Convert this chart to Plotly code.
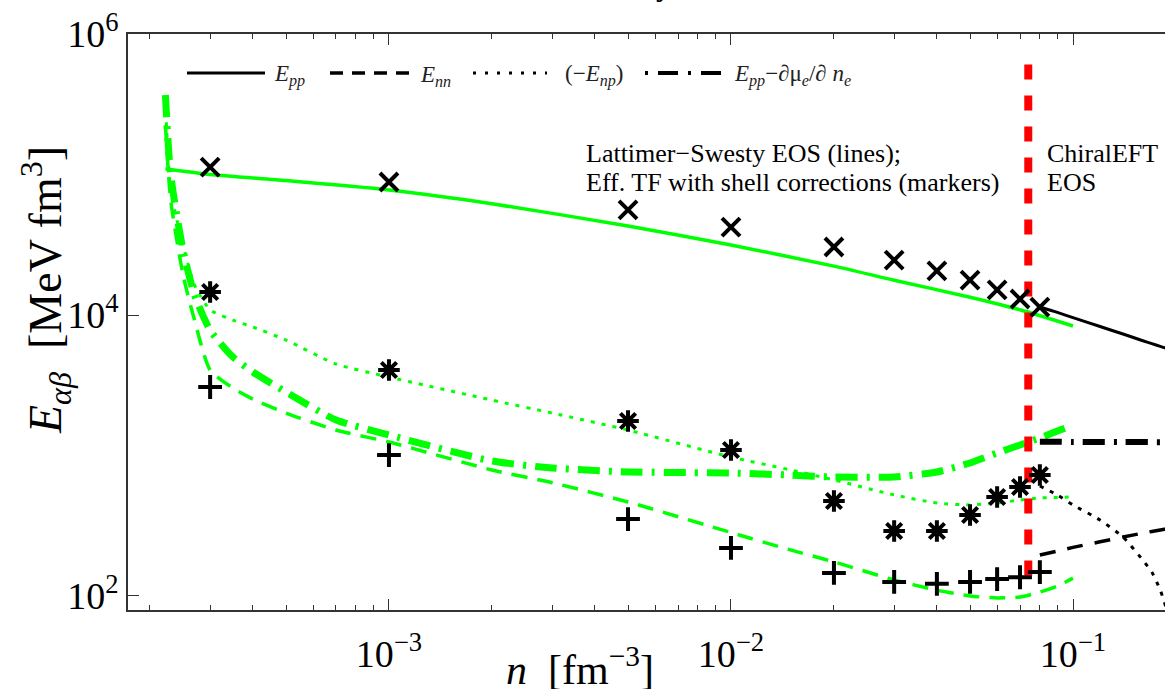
import plotly.graph_objects as go

# ---------------- data ----------------
# Eff. TF with shell corrections (markers)
n_tf = [3e-4, 1e-3, 5e-3, 1e-2, 2e-2, 3e-2, 4e-2, 5e-2, 6e-2, 7e-2, 8e-2]
E_pp_tf = [1.13e5, 8.85e4, 5.6e4, 4.23e4, 3.05e4, 2.46e4, 2.06e4, 1.77e4, 1.51e4, 1.30e4, 1.14e4]
E_np_tf = [1.46e4, 4065, 1762, 1094, 474, 290, 290, 377, 507, 597, 726]
E_nn_tf = [3073, 1008, 353, 220, 146, 126, 122, 126, 132, 136, 148]

# Lattimer-Swesty EOS (green lines)
n_ls_pp = [2.22e-4, 3e-4, 5e-4, 1e-3, 2e-3, 5e-3, 1e-2, 2e-2, 3e-2, 5e-2, 7e-2, 0.1]
E_pp_ls = [1.10e5, 1.00e5, 9.06e4, 7.76e4, 6.2e4, 4.30e4, 3.15e4, 2.23e4, 1.77e4, 1.34e4, 1.09e4, 8360]

n_ls = [2.22e-4, 2.3e-4, 2.5e-4, 2.7e-4, 3e-4, 3.5e-4, 4e-4, 5e-4, 7e-4, 1e-3, 2e-3, 3e-3,
        5e-3, 1e-2, 1.5e-2, 2e-2, 3e-2, 4e-2, 5e-2, 6e-2, 7e-2, 8e-2, 9e-2, 0.1]
E_nn_ls = [2.25e5, 6.59e4, 1.93e4, 9210, 4060, 3020, 2520, 2006, 1518, 1247, 789, 640,
           467, 283, 212, 175, 130, 110, 100, 96.8, 98.4, 106.7, 117.7, 134]
E_np_ls = [3.39e5, 7.76e4, 3.15e4, 1.64e4, 1.09e4, 9210, 8220, 6640, 4480, 3620, 2480, 2006,
           1518, 975, 788, 670, 524, 459, 445, 459, 482, 499, 503, 507]
E_ppd_ls = [3.68e5, 1.0e5, 2.9e4, 1.39e4, 7820, 5020, 3930, 2830, 1790, 1400, 914, 815,
            764, 750, 725, 703, 703, 764, 885, 1042, 1189, 1333, 1494, 1648]

# ChiralEFT EOS (black lines)
n_ch = [0.08, 0.09, 0.1, 0.12, 0.14, 0.16, 0.17, 0.18, 0.19, 0.2]
E_pp_ch = [11400, 10440, 9583, 8281, 7325, 6565, 6257, 5989, 5728, 5516]
E_nn_ch = [196, 209, 222, 243, 263, 280, 288, 295, 302, 310]
E_np_ch = [607, 524, 445, 347, 263, 180, 148, 110, 73, 40]
E_ppd_ch = [1255, 1252, 1250, 1248, 1247, 1246, 1245, 1245, 1244, 1244]

# boundary between EOS models
n_boundary = [0.074, 0.074]
E_boundary = [140, 7.3e5]

x_tickvals = [1e-3, 1e-2, 1e-1]
x_ticktext = ["10<sup>−3</sup>", "10<sup>−2</sup>", "10<sup>−1</sup>"]
x_minor = [2e-4, 3e-4, 4e-4, 5e-4, 6e-4, 7e-4, 8e-4, 9e-4,
           2e-3, 3e-3, 4e-3, 5e-3, 6e-3, 7e-3, 8e-3, 9e-3,
           2e-2, 3e-2, 4e-2, 5e-2, 6e-2, 7e-2, 8e-2, 9e-2]
y_tickvals = [1e2, 1e4, 1e6]
y_ticktext = ["10<sup>2</sup>", "10<sup>4</sup>", "10<sup>6</sup>"]

# ---------------- figure ----------------
W, H = 1165, 689
ML, MR, MT, MB = 128, 0, 34, 79
PW, PH = W - ML - MR, H - MT - MB
FONT = "Liberation Serif"
GREEN = "#00ff00"


def px(x):
    return (x - ML) / PW


def py(y):
    return (H - MB - y) / PH


fig = go.Figure()


def line(x, y, color, width, dash, smooth=0.6):
    fig.add_trace(go.Scatter(x=x, y=y, mode="lines", hoverinfo="skip",
                             line=dict(color=color, width=width, dash=dash,
                                       shape="spline", smoothing=smooth)))


line(n_ls_pp, E_pp_ls, GREEN, 3.5, "solid")
line(n_ls, E_nn_ls, GREEN, 3.5, "16px,10px")
line(n_ls, E_np_ls, GREEN, 3, "4px,7px")
line(n_ls, E_ppd_ls, GREEN, 7, "22px,9px,3px,9px")

line(n_ch, E_pp_ch, "black", 3, "solid")
line(n_ch, E_nn_ch, "black", 3.5, "16px,12px")
line(n_ch, E_np_ch, "black", 3, "4px,7px")
line(n_ch, E_ppd_ch, "black", 6, "22px,9px,3px,9px")

fig.add_trace(go.Scatter(x=n_boundary, y=E_boundary, mode="lines", hoverinfo="skip",
                         line=dict(color="#ff0000", width=8, dash="15px,16px")))


def markers(y, symbol, size):
    fig.add_trace(go.Scatter(x=n_tf, y=y, mode="markers", hoverinfo="skip",
                             marker=dict(symbol=symbol, size=size, color="black",
                                         line=dict(color="black", width=4))))


markers(E_pp_tf, "x-thin", 18)
markers(E_np_tf, "asterisk", 18)
markers(E_nn_tf, "cross-thin", 17)

# legend (drawn manually)
leg_y = py(73)
leg_items = [
    (187, 265, "solid", 3, 272, "<i>E</i><sub><i>pp</i></sub>"),
    (330, 410, "13px,9px", 3.5, 418, "<i>E</i><sub><i>nn</i></sub>"),
    (473, 547, "3px,9px", 3, 563, "(−<i>E</i><sub><i>np</i></sub>)"),
    (645, 722, "3px,10px,20px,10px", 4, 732,
     "<i>E</i><sub><i>pp</i></sub>−∂μ<sub><i>e</i></sub>/∂ <i>n</i><sub><i>e</i></sub>"),
]
shapes = []
annotations = []
for x0, x1, dash, w, xt, label in leg_items:
    shapes.append(dict(type="line", xref="paper", yref="paper", x0=px(x0), x1=px(x1),
                       y0=leg_y, y1=leg_y, line=dict(color="black", width=w, dash=dash)))
    annotations.append(dict(text=label, xref="paper", yref="paper", x=px(xt), y=py(76),
                            xanchor="left", yanchor="middle", showarrow=False,
                            font=dict(family=FONT, size=23, color="#222")))

txt_font = dict(family=FONT, size=26, color="black")
for t, x, y in [("Lattimer−Swesty EOS (lines);", 584, 153),
                ("Eff. TF with shell corrections (markers)", 584, 182),
                ("ChiralEFT", 1045, 153),
                ("EOS", 1045, 182)]:
    annotations.append(dict(text=t, xref="paper", yref="paper", x=px(x), y=py(y),
                            xanchor="left", yanchor="middle", showarrow=False, font=txt_font))

# axis titles
annotations.append(dict(text="<i>n</i>\u00a0\u00a0[fm<sup>−3</sup>]", xref="paper", yref="paper",
                        x=px(580), y=py(638), xanchor="center", yanchor="top", showarrow=False,
                        font=dict(family=FONT, size=42, color="black")))
annotations.append(dict(text="<i>E</i><sub><i>αβ</i></sub>\u00a0\u00a0[MeV fm<sup>3</sup>]",
                        xref="paper", yref="paper", x=px(45), y=py(290), textangle=-90,
                        xanchor="center", yanchor="middle", showarrow=False,
                        font=dict(family=FONT, size=46, color="black")))
# fragment of a cut-off title at the very top
annotations.append(dict(text="<b>y</b>", xref="paper", yref="paper", x=px(663), y=py(4),
                        xanchor="center", yanchor="bottom", showarrow=False,
                        font=dict(family=FONT, size=30, color="black")))

axis_common = dict(type="log", showgrid=False, zeroline=False, showline=True,
                   linecolor="#333", linewidth=1.5, ticks="inside", ticklen=11,
                   tickwidth=1.3, tickcolor="#333",
                   tickfont=dict(family=FONT, size=38, color="black"))

fig.update_layout(
    width=W, height=H, autosize=False,
    margin=dict(l=ML, r=MR, t=MT, b=MB),
    paper_bgcolor="white", plot_bgcolor="white",
    showlegend=False,
    xaxis=dict(range=[-3.763, -0.731], tickmode="array", tickvals=x_tickvals,
               ticktext=x_ticktext, mirror="ticks", ticklabelstandoff=10,
               minor=dict(tickmode="array", tickvals=x_minor, ticks="inside", ticklen=5,
                          tickwidth=1.3, tickcolor="#333"),
               **axis_common),
    yaxis=dict(range=[1.9003, 6.0005], tickmode="array", tickvals=y_tickvals,
               ticktext=y_ticktext, mirror=False, **axis_common),
    shapes=shapes,
    annotations=annotations,
)

fig.write_html("out.html", config={"displayModeBar": False},
               post_script="document.body.style.margin='0';document.body.style.overflow='hidden';")
